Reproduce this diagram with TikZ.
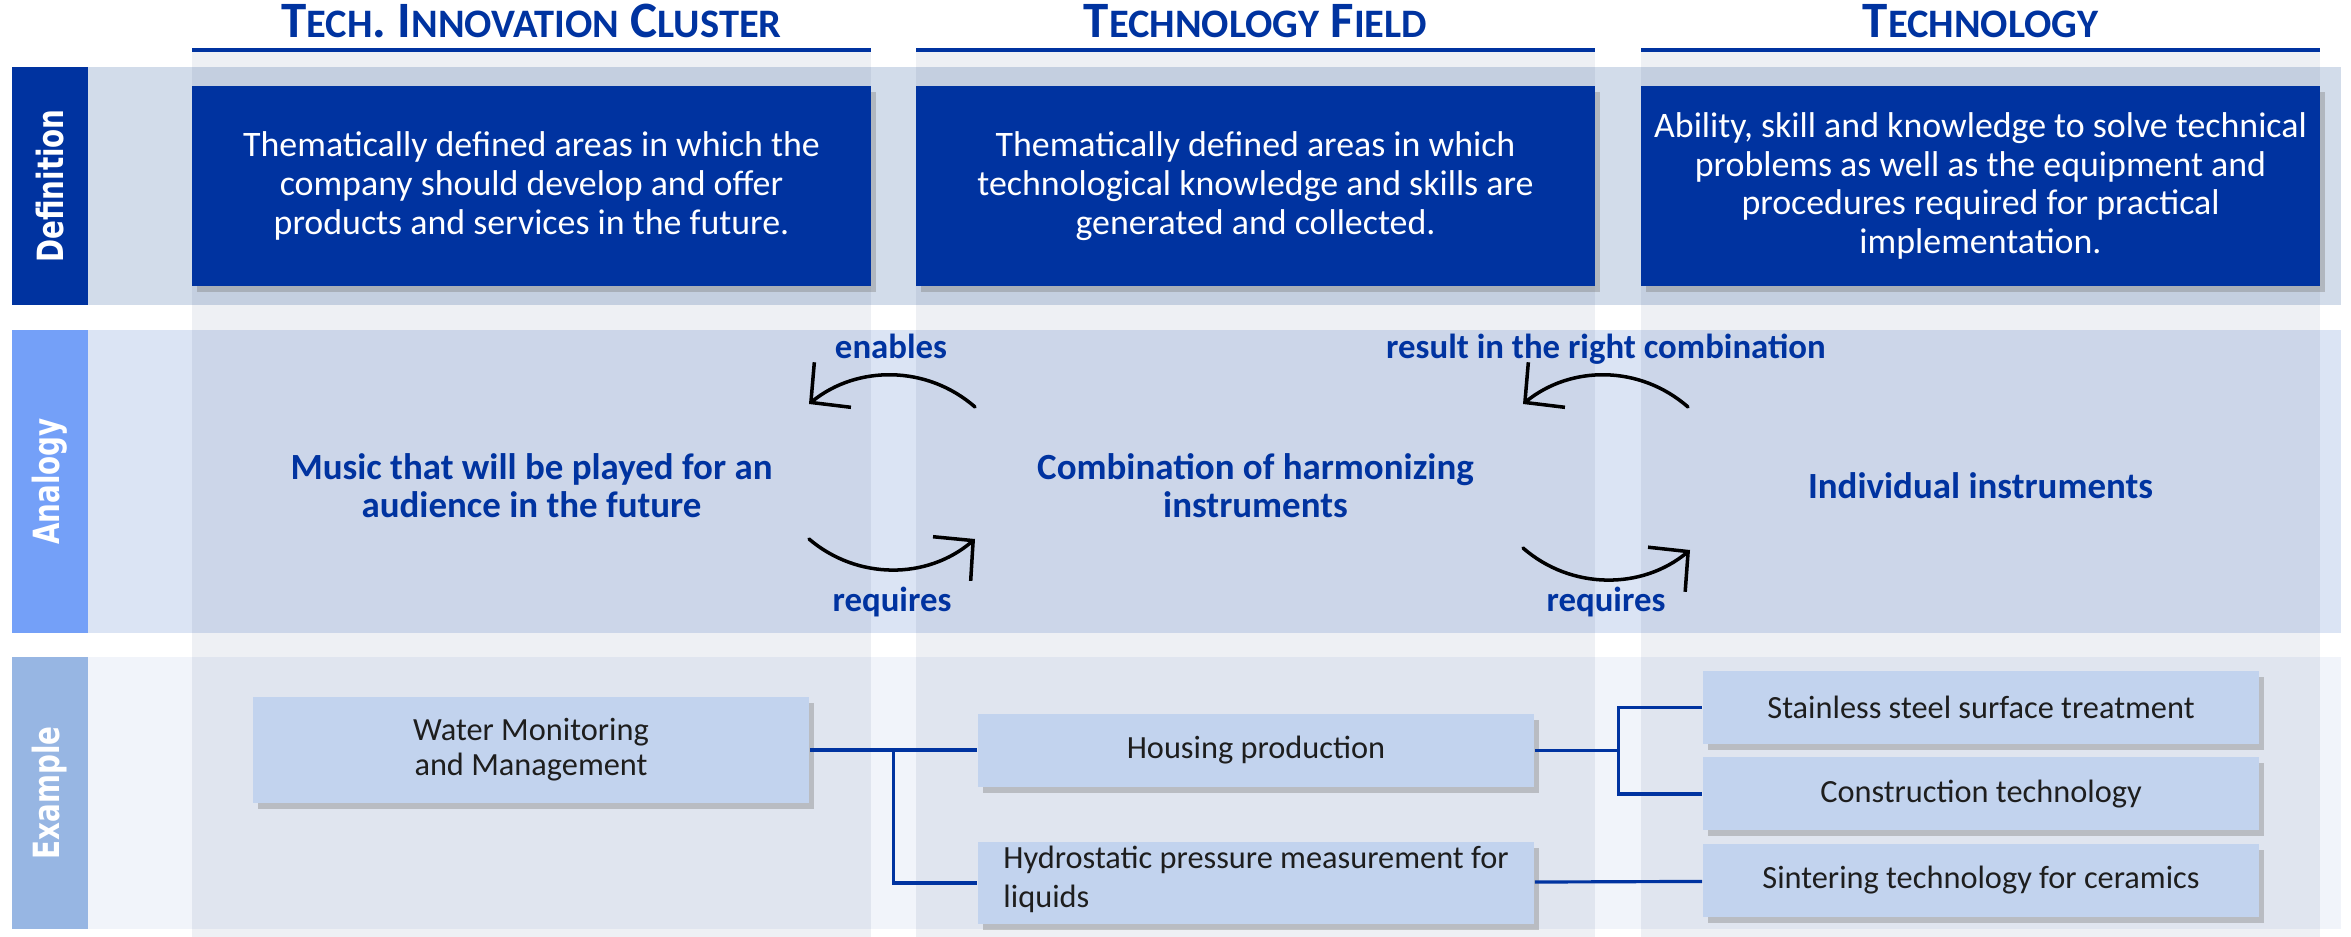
\documentclass[tikz,border=0pt]{standalone}
\usepackage{fontspec}
\setmainfont{Carlito}
\newfontfamily\barfont{DejaVu Sans}
\usetikzlibrary{positioning,calc,arrows.meta,shadows}

\definecolor{navy}{RGB}{0,51,160}
\definecolor{anabar}{RGB}{116,160,248}
\definecolor{exbar}{RGB}{151,182,227}
\definecolor{defband}{RGB}{210,220,234}
\definecolor{anaband}{RGB}{219,228,244}
\definecolor{exband}{RGB}{241,244,250}
\definecolor{exfill}{RGB}{194,211,238}
\definecolor{colshade}{RGB}{12,41,98}
\definecolor{ink}{RGB}{30,30,30}

% smaller capitals for the column titles
\newcommand{\hsc}[1]{{\fontsize{11.5}{13}\selectfont #1}}

\begin{document}
\begin{tikzpicture}[
    x=0.01cm, y=-0.01cm,
    headtitle/.style={anchor=base, text=navy, font=\bfseries\fontsize{14.5}{16}\selectfont},
    rowbar/.style={rotate=90, fill=#1, minimum height=0.76cm, inner sep=0pt, text=white, font=\barfont\bfseries\fontsize{7.9}{8}\selectfont},
    defbox/.style={fill=navy, text=white, minimum width=6.79cm, minimum height=2cm, align=center, font=\fontsize{10.2}{11}\selectfont, drop shadow={shadow xshift=0.05cm, shadow yshift=-0.06cm, opacity=0.4}},
    anatext/.style={text=navy, align=center, font=\bfseries\fontsize{10.5}{10.8}\selectfont},
    arrlabel/.style={anchor=base, text=navy, font=\bfseries\fontsize{9.9}{11}\selectfont},
    curvy/.style={-{Straight Barb[length=0.28cm, width=0.58cm]}, line width=1pt, line cap=round, black},
    exbox/.style={fill=exfill, text=ink, minimum width=5.56cm, minimum height=0.73cm, align=center, font=\fontsize{9.2}{10}\selectfont, drop shadow={shadow xshift=0.05cm, shadow yshift=-0.06cm, opacity=0.4}},
    link/.style={draw=navy, line width=0.9pt}
]
    \useasboundingbox (0,0) rectangle (2351,937);

    % row bands
    \fill[defband] (12,67) rectangle (2341,305);
    \fill[anaband] (12,330) rectangle (2341,633);
    \fill[exband] (12,657) rectangle (2341,929);

    % column strips
    \foreach \xa/\xb in {192/871, 916/1595, 1641/2320} {
        \fill[colshade, fill opacity=0.07] (\xa,52) rectangle (\xb,937);
        \draw[navy, line width=0.04cm] (\xa,49.7) -- (\xb,49.7);
    }

    % column titles
    \node[headtitle] (tcluster) at (531.5,38) {T\hsc{ECH}. I\hsc{NNOVATION} C\hsc{LUSTER}};
    \node[headtitle] (tfield) at (1255.5,38) {T\hsc{ECHNOLOGY} F\hsc{IELD}};
    \node[headtitle] (ttech) at (1980.5,38) {T\hsc{ECHNOLOGY}};

    % row labels
    \node[rowbar=navy, minimum width=2.38cm] (ldef) at (50,186) {\scalebox{1}[1.3]{Definition}};
    \node[rowbar=anabar, minimum width=3.03cm] (lana) at (50,481.5) {\scalebox{1}[1.3]{Analogy}};
    \node[rowbar=exbar, minimum width=2.72cm] (lex) at (50,793) {\scalebox{1}[1.3]{Example}};

    % definitions
    \node[defbox] (dcluster) at (531.5,186) {Thematically defined areas in which the\\company should develop and offer\\products and services in the future.};
    \node[defbox] (dfield) at (1255.5,186) {Thematically defined areas in which\\technological knowledge and skills are\\generated and collected.};
    \node[defbox] (dtech) at (1980.5,186) {Ability, skill and knowledge to solve technical\\problems as well as the equipment and\\procedures required for practical\\implementation.};

    % analogy
    \node[anatext] (music) at (531.5,486) {Music that will be played for an\\audience in the future};
    \node[anatext] (combi) at (1255.5,486) {Combination of harmonizing\\instruments};
    \node[anatext] (instr) at (1980.5,486) {Individual instruments};

    \coordinate (en-a) at (975,407);
    \coordinate (en-b) at (809,404);
    \coordinate (rq-a) at (809,539);
    \coordinate (rq-b) at (975,539);
    \coordinate (rc-a) at (1688,407);
    \coordinate (rc-b) at (1523,404);
    \coordinate (rt-a) at (1523,548);
    \coordinate (rt-b) at (1690,550);

    \draw[curvy] (en-a) .. controls (927,365) and (857,365) .. (en-b);
    \draw[curvy] (rq-a) .. controls (857,580) and (927,580) .. (rq-b);
    \draw[curvy] (rc-a) .. controls (1640,365) and (1571,365) .. (rc-b);
    \draw[curvy] (rt-a) .. controls (1571,590) and (1642,590) .. (rt-b);

    \node[arrlabel] (lenables) at (891,359) {enables};
    \node[arrlabel] (lrequires) at (892,612) {requires};
    \node[arrlabel] (lresult) at (1606,359) {result in the right combination};
    \node[arrlabel] (lrequires2) at (1606,612) {requires};

    % examples
    \node[exbox, minimum height=1.06cm] (water) at (531,750) {Water Monitoring\\and Management};
    \node[exbox] (housing) at (1256,750.5) {Housing production};
    \node[exbox, align=left, inner ysep=1pt, text depth=0.13cm, font=\fontsize{9.2}{11}\selectfont, below=0.54cm of housing] (hydro) {Hydrostatic pressure measurement for\\liquids};
    \node[exbox] (stainless) at (1981,707.5) {Stainless steel surface treatment};
    \node[exbox, below=0.12cm of stainless] (construction) {Construction technology};
    \node[exbox, below=0.12cm of construction] (sintering) {Sintering technology for ceramics};

    \coordinate (split1) at ($(water.east)!0.5!(water.east -| housing.west)$);
    \coordinate (split2) at ($(housing.east)!0.5!(housing.east -| stainless.west)$);

    \draw[link] (water.east) -- (water.east -| housing.west);
    \draw[link] (split1) |- (hydro.west);
    \draw[link] (housing.east) -- (split2);
    \draw[link] (split2) |- (stainless.west);
    \draw[link] (split2) |- (construction.west);
    \draw[link] (hydro) -- (sintering);
\end{tikzpicture}
\end{document}
